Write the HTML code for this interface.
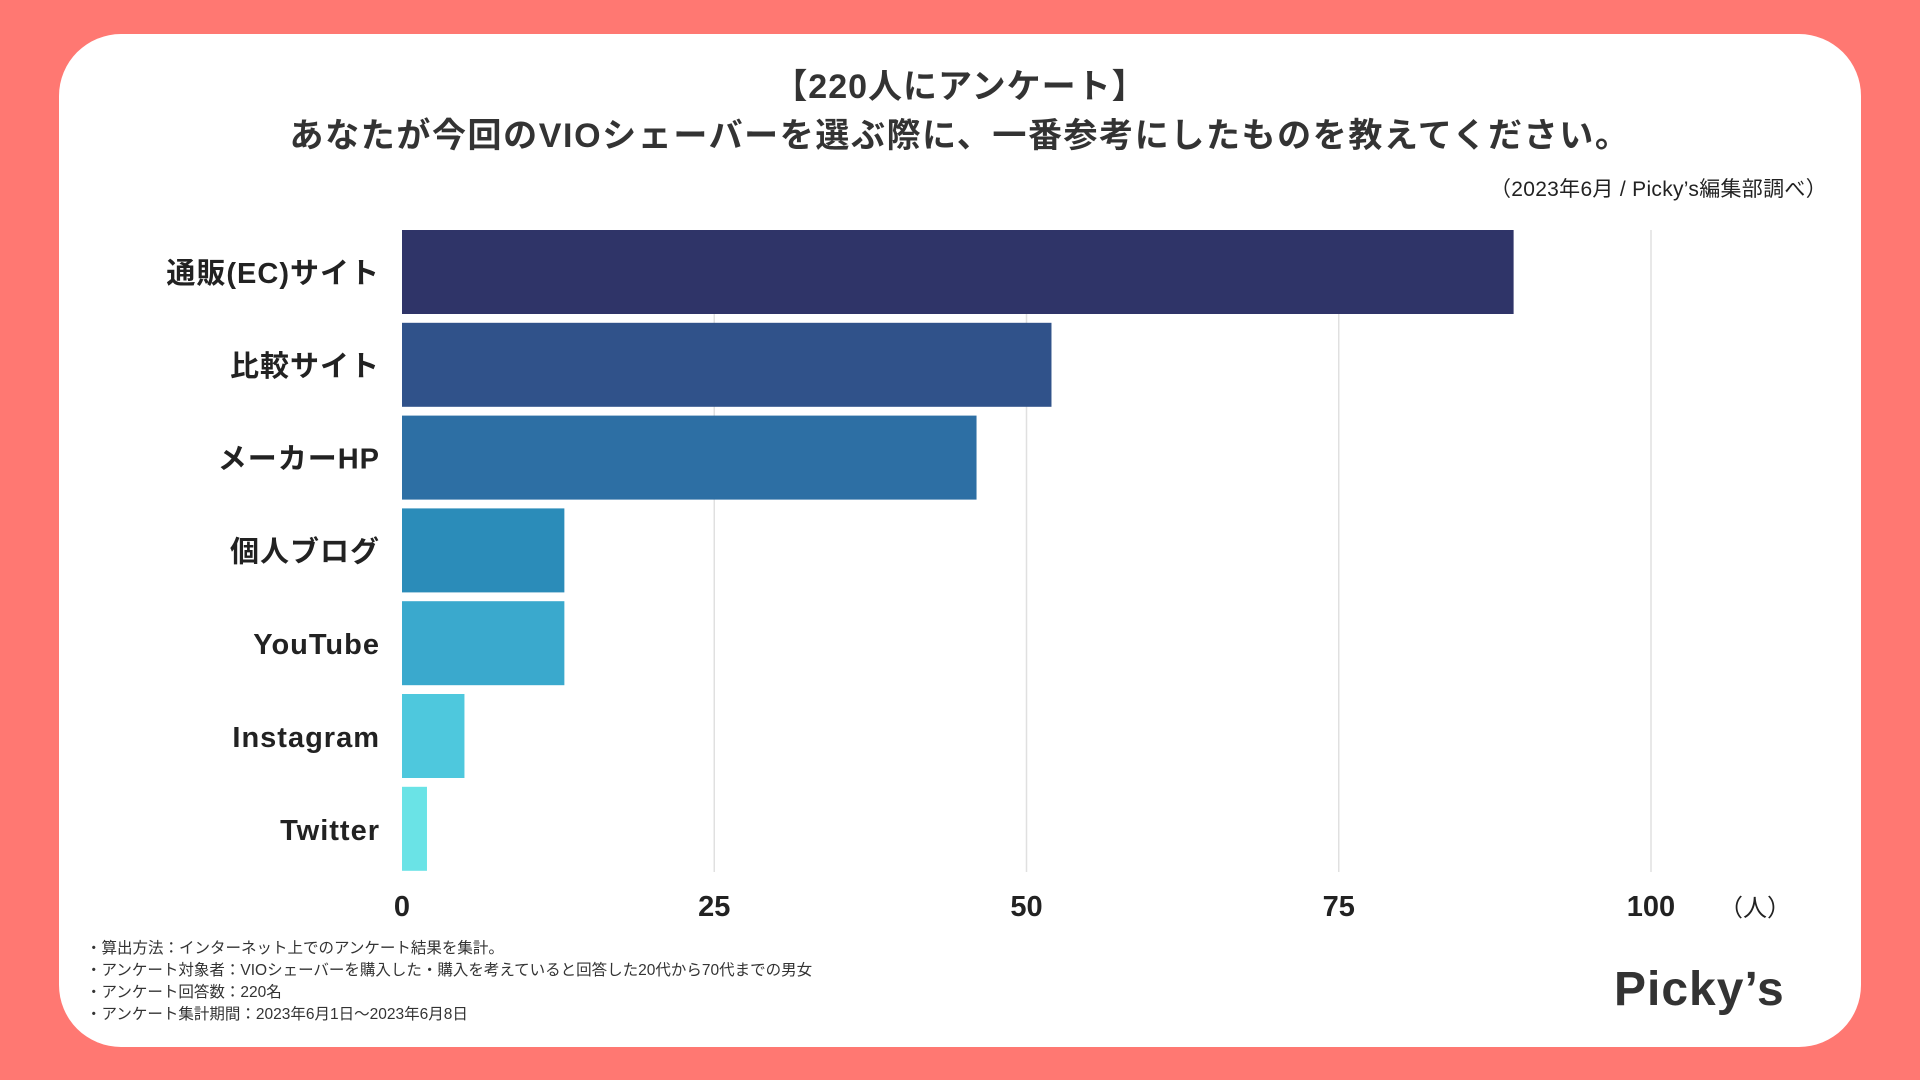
<!DOCTYPE html>
<html><head><meta charset="utf-8">
<style>
html,body{margin:0;padding:0;width:1920px;height:1080px;background:#ff7872;overflow:hidden;font-family:"Liberation Sans","Noto Sans CJK JP",sans-serif;}
#card{position:absolute;left:59px;top:34px;width:1802px;height:1013px;background:#fff;border-radius:62px;}
.t{position:absolute;color:#333;font-weight:bold;white-space:nowrap;}
</style></head><body>
<div id="card"></div>
<div class="t" style="left:0;width:1920px;text-align:center;top:59px;font-size:34px;letter-spacing:1px;">【220人にアンケート】</div>
<div class="t" style="left:0;width:1920px;text-align:center;top:108px;font-size:34px;letter-spacing:1.6px;">あなたが今回のVIOシェーバーを選ぶ際に、一番参考にしたものを教えてください。</div>
<div class="t" style="right:93px;top:173px;font-size:21px;font-weight:normal;color:#222;letter-spacing:0.3px;">（2023年6月 / Picky’s編集部調べ）</div>
<svg id="chart" width="1920" height="1080" style="position:absolute;left:0;top:0"></svg>
<div class="t" style="left:86px;top:938px;font-size:15.5px;line-height:22px;font-weight:normal;color:#333;">・算出方法：インターネット上でのアンケート結果を集計。<br>・アンケート対象者：VIOシェーバーを購入した・購入を考えていると回答した20代から70代までの男女<br>・アンケート回答数：220名<br>・アンケート集計期間：2023年6月1日〜2023年6月8日</div>
<div class="t" style="left:1614px;top:962px;font-size:48px;color:#333;letter-spacing:1px;">Picky’s</div>
<script>
const categories=["通販(EC)サイト","比較サイト","メーカーHP","個人ブログ","YouTube","Instagram","Twitter"];
const values=[89,52,46,13,13,5,2];
const ticks=[0,25,50,75,100];
const colors=["#2f3468","#30528a","#2d6fa4","#2b8cb9","#3aa9cd","#4ec8dd","#6ae3e6"];
const svg=document.getElementById('chart');
const NS="http://www.w3.org/2000/svg";
const x0=402,x1=1651,top0=230,step=92.8,bh=84,gridBottom=872;
const xs=v=>x0+(v/100)*(x1-x0);
function mk(t,a){const e=document.createElementNS(NS,t);for(const k in a)e.setAttribute(k,a[k]);svg.appendChild(e);return e;}
ticks.forEach(t=>{
  if(t>0){const l=mk('line',{x1:xs(t),x2:xs(t),y1:top0,y2:gridBottom,stroke:'#e0e0e0','stroke-width':1.5});
  
  }
  const tx=mk('text',{x:xs(t),y:916,'text-anchor':'middle','font-size':29,'font-weight':'bold',fill:'#222','font-family':'"Liberation Sans","Noto Sans CJK JP",sans-serif'});
  tx.textContent=t;
  
  
});
const u=mk('text',{x:1755,y:916,'text-anchor':'middle','font-size':24,fill:'#222','font-family':'"Liberation Sans","Noto Sans CJK JP",sans-serif'});
u.textContent='（人）';


categories.forEach((c,i)=>{
  const y=top0+i*step;
  const r=mk('rect',{x:x0,y:y,width:xs(values[i])-x0,height:bh,fill:colors[i]});
  
  
  const t=mk('text',{x:380,y:y+bh/2+11,'text-anchor':'end','font-size':29,'font-weight':'bold',fill:'#222','letter-spacing':'1','font-family':'"Liberation Sans","Noto Sans CJK JP",sans-serif'});
  t.textContent=c;
  
  
});
</script>
</body></html>
